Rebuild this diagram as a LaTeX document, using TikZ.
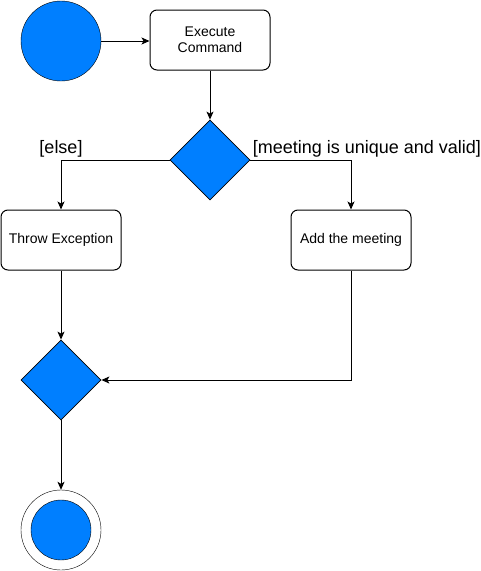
\documentclass[tikz,border=0pt]{standalone}
\usepackage{fontspec}
\setmainfont{Liberation Sans}
\usetikzlibrary{shapes.geometric,arrows.meta,positioning}
\definecolor{umlblue}{HTML}{007FFF}

\begin{document}
\begin{tikzpicture}[x=1pt,y=-1pt,
    act/.style={draw,rounded corners=7pt,minimum width=120pt,minimum
        height=60pt,align=center,font=\fontsize{14}{16}\selectfont,line width=1pt},
    dec/.style={draw,diamond,fill=umlblue,minimum width=80pt,minimum
        height=80pt,inner sep=0pt,line width=0.8pt},
    flow/.style={-{Stealth[length=8pt,width=7pt,inset=2pt]},line width=1pt},
    guard/.style={font=\fontsize{18}{20}\selectfont,inner sep=2pt}]

    \useasboundingbox (0,0) rectangle (481,571);

    % the states
    \node[draw,circle,fill=umlblue,minimum size=80pt,inner sep=0pt] (start) at (61,41) {};
    \node[act] (exec) at (210,40) {Execute\\Command};
    \node[dec] (choice) at (210,160) {};
    \node[act] (throw) at (61,240) {Throw Exception};
    \node[act] (add) at (351,240) {Add the meeting};
    \node[dec] (merge) at (61,380) {};
    \node[draw,circle,minimum size=80pt,inner sep=0pt] (final) at (61,530) {};
    \node[draw,circle,fill=umlblue,minimum size=60pt,inner sep=0pt] (finaldot) at (final) {};

    \draw[flow] (start.east) -- (start.east -| exec.west);
    \draw[flow] (exec) -- (choice);
    \draw[flow] (choice.west) -| node[guard,above,pos=0.5]{[else]} (throw);
    \draw[flow] (choice.east) -| node[guard,above right,pos=0]{[meeting is unique and valid]} (add);
    \draw[flow] (throw) -- (merge);
    \draw[flow] (add.south) |- (merge.east);
    \draw[flow] (merge) -- (final);
  \end{tikzpicture}
\end{document}
